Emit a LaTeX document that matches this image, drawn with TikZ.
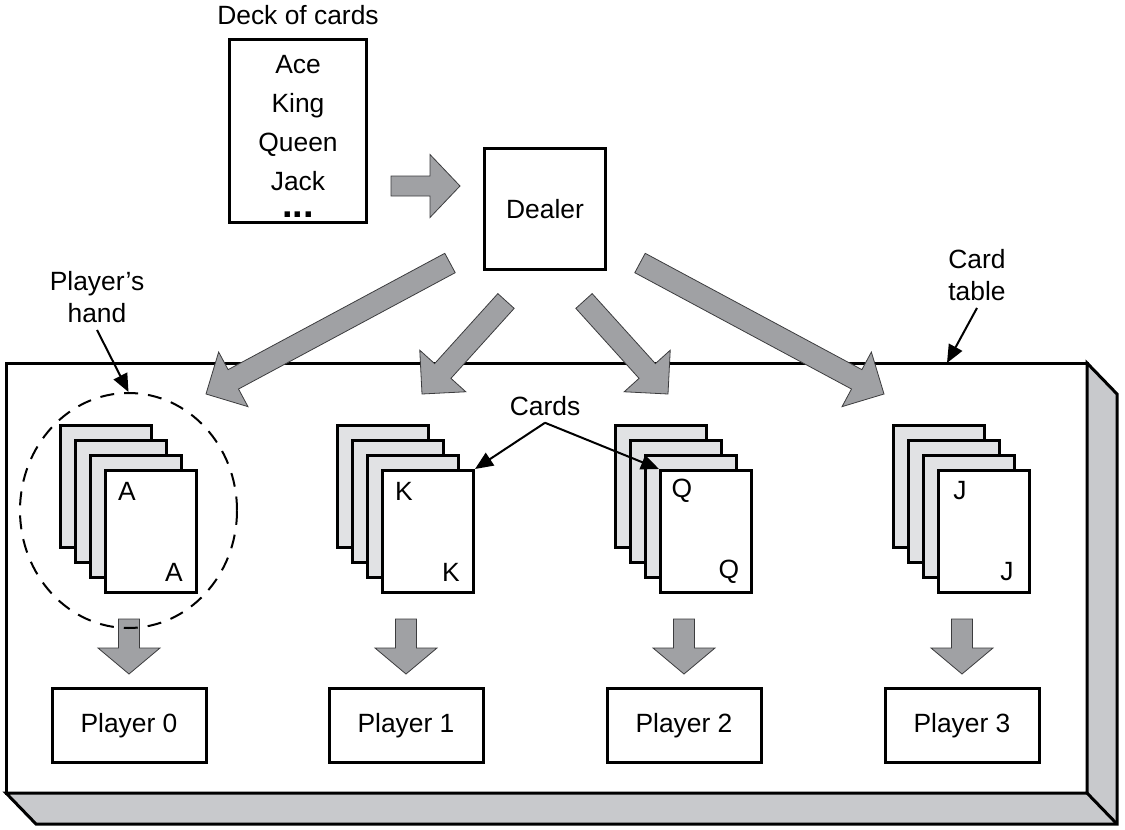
\documentclass[tikz,border=0pt]{standalone}
\usepackage{fontspec}
\setmainfont{Liberation Sans}
\usepackage{tikz}
\usepackage{xcolor}
\usetikzlibrary{shapes.geometric, arrows.meta, positioning, calc}

\definecolor{arrowgray}{RGB}{160,161,164}
\definecolor{edgegray}{RGB}{60,60,62}
\definecolor{backgray}{RGB}{225,226,228}
\definecolor{sidegray}{RGB}{200,201,204}

\tikzset{
  box/.style={draw, line width=1.5pt, inner sep=0pt},
  playerbox/.style={box, minimum width=77pt, minimum height=37pt},
  card/.style={box, fill=backgray, minimum width=45.5pt, minimum height=61pt},
  fatarrow/.style={fill=arrowgray, draw=edgegray, line width=0.4pt},
  callout/.style={line width=1pt, -{Triangle[length=9pt,width=7.5pt]}},
}

% block arrow: tail, tip, half shaft, half head, head length
\newcommand{\blockarrow}[5]{%
  \coordinate (ba-h) at ($(#2)!#5!(#1)$);
  \draw[fatarrow] ($(#1)!#3!90:(#2)$) -- ($(ba-h)!#3!90:(#2)$) -- ($(ba-h)!#4!90:(#2)$)
    -- (#2) -- ($(ba-h)!#4!-90:(#2)$) -- ($(ba-h)!#3!-90:(#2)$) -- ($(#1)!#3!-90:(#2)$) -- cycle;
}

\begin{document}
\begin{tikzpicture}[x=0.5pt, y=-0.5pt, font=\fontsize{13.2}{15.8}\selectfont]
\useasboundingbox (0,0) rectangle (1125,830);

% Card table
\node[draw, line width=1.5pt, fill=white, outer sep=0pt, minimum width=540.5pt, minimum height=215pt] (table) at (546.5,578) {};
\draw[line width=1.5pt, fill=sidegray] (table.north east) -- ++(30,31) -- ($(table.south east)+(30,31)$)
  -- ($(table.south west)+(30,31)$) -- (table.south west) -- (table.south east) -- cycle;
\draw[line width=1.5pt] (table.south east) -- ++(30,31);

% Deck and dealer
\node (decklabel) at (298,15) {Deck of cards};
\node[box, minimum width=68.5pt, minimum height=91.5pt] (deck) at (298,131) {};
\node[align=center, font=\fontsize{13.2}{19.5}\selectfont] (decklist) at (298,136)
  {Ace\\King\\Queen\\Jack\\[-6pt]{\fontsize{19}{19}\selectfont\bfseries ...}};
\node[box, minimum size=60.5pt] (dealer) at (545,209) {Dealer};
\coordinate (deal-a) at (391,186);
\coordinate (deal-b) at (460,186);
\blockarrow{deal-a}{deal-b}{5pt}{15.75pt}{15pt}

% Hands and players
\foreach \i/\l/\cx in {0/A/129,1/K/406,2/Q/684,3/J/962} {
  \foreach \k in {0,1,2} {
    \node[card] (card\i-\k) at (\cx-23+15*\k, 486.5+15*\k) {};
  }
  \node[card, fill=white] (card\i-3) at (\cx+22, 531.5) {};
  \node at ([shift={(23,22)}]card\i-3.north west) {\l};
  \node at ([shift={(-24,-22)}]card\i-3.south east) {\l};
  \node[playerbox] (player\i) at (\cx,725.5) {Player \i};
  \coordinate (down\i-b) at ($(player\i.north)+(0,-13)$);
  \coordinate (down\i-a) at ($(down\i-b)+(0,-55)$);
  \blockarrow{down\i-a}{down\i-b}{5.25pt}{15.5pt}{13pt}
}

\node[draw, ellipse, line width=1pt, dash pattern=on 7pt off 5pt, minimum width=108.5pt, minimum height=117.5pt] (hand) at (128.5,510.5) {};

% Dealing
\coordinate (hand0-a) at (450,263);
\coordinate (hand0-b) at (206,394);
\coordinate (hand1-a) at (506,301);
\coordinate (hand1-b) at (422,394);
\coordinate (hand2-a) at (584,301);
\coordinate (hand2-b) at (668,394);
\coordinate (hand3-a) at (640,263);
\coordinate (hand3-b) at (884,394);
\foreach \i in {0,...,3} {
  \blockarrow{hand\i-a}{hand\i-b}{5.5pt}{15.5pt}{15.5pt}
}

% Labels
\node[align=center, font=\fontsize{13.2}{16.2}\selectfont] (handlabel) at (97,297) {Player’s\\hand};
\draw[callout] (handlabel.south) -- (hand.north);
\node[align=center, font=\fontsize{13.2}{16.2}\selectfont] (tablelabel) at (977,275) {Card\\table};
\coordinate (tabletop) at (947,363);
\draw[callout] (tablelabel.south) -- (tabletop);
\node (cardslabel) at (545,406) {Cards};
\draw[callout] (cardslabel.south) -- (card1-3.north east);
\draw[callout] (cardslabel.south) -- (card2-3.north west);
\end{tikzpicture}
\end{document}
